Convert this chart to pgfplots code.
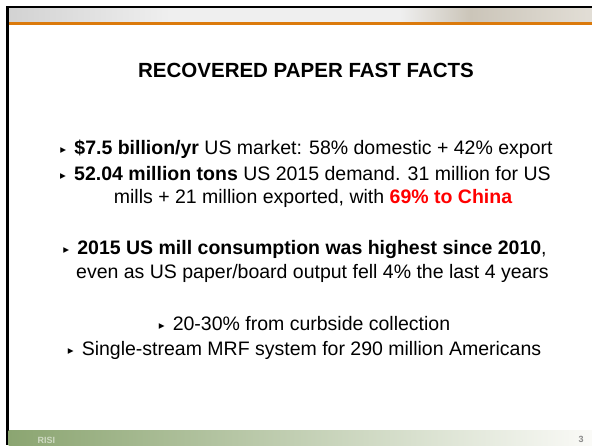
\documentclass[border=0pt]{standalone}
\usepackage{pgfplots}
\pgfplotsset{compat=1.18}
\usepackage{fontspec}
\setmainfont{Liberation Sans}
\newfontfamily\symfont{DejaVu Sans}
\definecolor{orangeline}{HTML}{DB7A0C}
\definecolor{grnL}{HTML}{8BA571}
\definecolor{grnM}{HTML}{C3D1B4}
\definecolor{grnR}{HTML}{FAFAF7}
\definecolor{risi}{HTML}{CFDAC3}
\definecolor{pgnum}{HTML}{8A8A8A}
\definecolor{bandA}{HTML}{D2D2D2}
\definecolor{bandB}{HTML}{EFEFEF}
\definecolor{bandC}{HTML}{CBC5B9}
\definecolor{bandD}{HTML}{E2DED6}
\newcommand{\bul}{\makebox[14bp][l]{\raisebox{0.5bp}{\symfont\fontsize{11.5bp}{11.5bp}\selectfont ▸}}}
\begin{document}
\begin{tikzpicture}
\begin{axis}[
  width=592bp, height=445bp, scale only axis,
  xmin=0, xmax=592, ymin=0, ymax=445, y dir=reverse,
  hide axis, clip=false,
]
\fill[white] (axis cs:0,0) rectangle (axis cs:592,445);
% top photo band
\fill[bandB] (axis cs:8,8) rectangle (axis cs:592,21.5);
\shade[left color=bandA, right color=bandB] (axis cs:8,8) rectangle (axis cs:170,21.5);
\shade[left color=bandB, right color=bandC] (axis cs:400,8) rectangle (axis cs:470,21.5);
\shade[left color=bandC, right color=bandD] (axis cs:470,8) rectangle (axis cs:592,21.5);
\fill[orangeline] (axis cs:8,21.5) rectangle (axis cs:592,24.5);
% black frame
\fill[black] (axis cs:6,6) rectangle (axis cs:592,8);
\fill[black] (axis cs:6,6) rectangle (axis cs:8.5,445);
% bottom band
\shade[left color=grnL, middle color=grnM, right color=grnR] (axis cs:8.5,430) rectangle (axis cs:592,445);
\node[anchor=base west, text=risi, font=\bfseries\fontsize{9bp}{9bp}\selectfont] at (axis cs:34,443.5) {RISI};
\node[anchor=base, text=pgnum, font=\bfseries\fontsize{9bp}{9bp}\selectfont] at (axis cs:581,442) {3};
% title
\node[anchor=base, font=\bfseries\fontsize{20.5bp}{24bp}\selectfont] at (axis cs:306,77) {RECOVERED PAPER FAST FACTS};
% body
\tikzset{body/.style={anchor=base, font=\fontsize{19.5bp}{23bp}\selectfont, inner sep=0pt}}
\node[body] at (axis cs:306.5,154) {\bul\textbf{\$7.5 billion/yr} US market: 58\% domestic + 42\% export};
\node[body] at (axis cs:305.5,180) {\bul\textbf{52.04 million tons} US 2015 demand. 31 million for US};
\node[body] at (axis cs:313,203) {mills + 21 million exported, with \textbf{\textcolor[HTML]{FF0000}{69\% to China}}};
\node[body] at (axis cs:305,254) {\bul\textbf{2015 US mill consumption was highest since 2010},};
\node[body] at (axis cs:312.5,278) {even as US paper/board output fell 4\% the last 4 years};
\node[body] at (axis cs:304.5,330) {\bul 20-30\% from curbside collection};
\node[body] at (axis cs:304.5,355) {\bul Single-stream MRF system for 290 million Americans};
\end{axis}
\end{tikzpicture}
\end{document}
